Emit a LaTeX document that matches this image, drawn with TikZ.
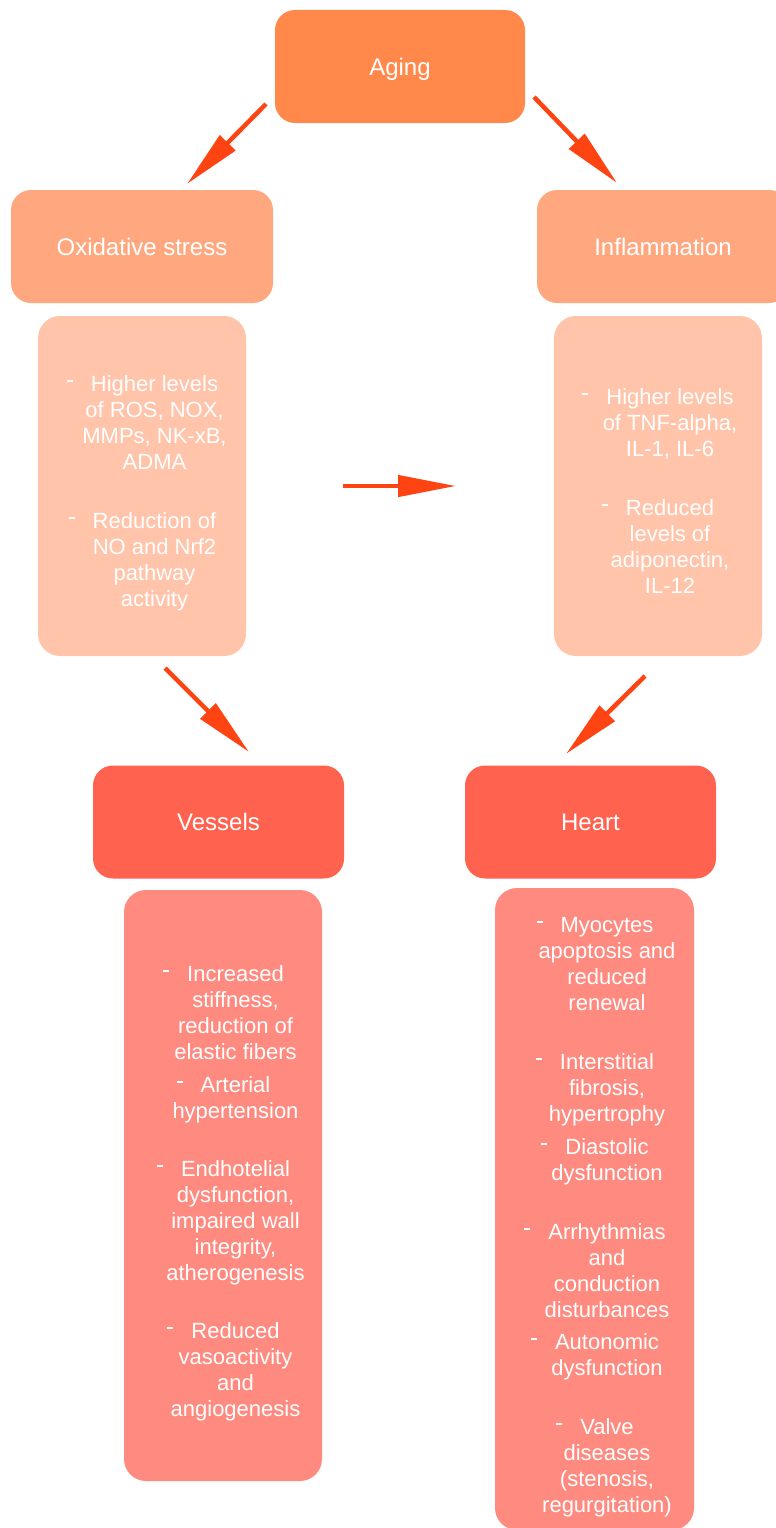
\documentclass[tikz,border=0pt]{standalone}
\usepackage{fontspec}
\setmainfont{Liberation Sans}
\usepackage{tikz}
\usetikzlibrary{arrows.meta,shapes}

\definecolor{agingcol}{HTML}{FF884A}
\definecolor{causecol}{HTML}{FFA880}
\definecolor{causelist}{HTML}{FFC4AA}
\definecolor{organcol}{HTML}{FF6350}
\definecolor{organlist}{HTML}{FF8A80}
\definecolor{arrowcol}{HTML}{FF4414}

\newcommand{\itemdash}{\leavevmode\llap{\raisebox{9pt}{\rule{6pt}{2pt}}\hspace{18pt}}}

\tikzset{
  headbox/.style={rectangle, rounded corners=20pt, inner sep=0pt, minimum height=113pt,
    text height=17pt, text depth=0pt, text=white, font=\fontsize{24}{28}\selectfont},
  listbox/.style={rectangle, rounded corners=22pt, inner sep=0pt},
  listtext/.style={align=center, anchor=north, inner sep=0pt, text=white,
    font=\fontsize{22}{26}\selectfont},
  flow/.style={draw=arrowcol, line width=4.5pt, -{Triangle[length=58pt,width=21pt]}}
}

\begin{document}
\begin{tikzpicture}[x=1pt,y=-1pt]
\useasboundingbox (0,0) rectangle (776,1528);

% top level
\node [headbox, fill=agingcol, minimum width=250pt] (aging) at (400,66.5) {Aging};
\node [headbox, fill=causecol, minimum width=262pt] (oxid) at (142,246.5) {Oxidative stress};
\node [headbox, fill=causecol, minimum width=252pt] (infl) at (663,246.5) {Inflammation};

\node [listbox, fill=causelist, minimum width=208pt, minimum height=340pt] (oxlist) at (142,486) {};
\node [listbox, fill=causelist, minimum width=208pt, minimum height=340pt] (inlist) at (658,486) {};

\node [listtext] (ox1) at (154.5,375) {\itemdash Higher levels\\ of ROS, NOX,\\ MMPs, NK-xB,\\ ADMA};
\node [listtext] (ox2) at (154.5,512) {\itemdash Reduction of\\ NO and Nrf2\\ pathway\\ activity};
\node [listtext] (in1) at (670,388) {\itemdash Higher levels\\ of TNF-alpha,\\ IL-1, IL-6};
\node [listtext] (in2) at (670,499) {\itemdash Reduced\\ levels of\\ adiponectin,\\ IL-12};

% organs
\node [headbox, fill=organcol, minimum width=251pt] (vess) at (218.5,822) {Vessels};
\node [headbox, fill=organcol, minimum width=251pt] (heart) at (590.5,822) {Heart};

\node [listbox, fill=organlist, minimum width=198pt, minimum height=591pt] (velist) at (223,1185.5) {};
\node [listbox, fill=organlist, minimum width=199pt, minimum height=642pt] (helist) at (594.5,1209) {};

\node [listtext] (ve1) at (235.5,965) {\itemdash Increased\\ stiffness,\\ reduction of\\ elastic fibers};
\node [listtext] (ve2) at (235.5,1076) {\itemdash Arterial\\ hypertension};
\node [listtext] (ve3) at (235.5,1160) {\itemdash Endhotelial\\ dysfunction,\\ impaired wall\\ integrity,\\ atherogenesis};
\node [listtext] (ve4) at (235.5,1322) {\itemdash Reduced\\ vasoactivity\\ and\\ angiogenesis};

\node [listtext] (he1) at (607,917) {\itemdash Myocytes\\ apoptosis and\\ reduced\\ renewal};
\node [listtext] (he2) at (607,1053) {\itemdash Interstitial\\ fibrosis,\\ hypertrophy};
\node [listtext] (he3) at (607,1138) {\itemdash Diastolic\\ dysfunction};
\node [listtext] (he4) at (607,1223) {\itemdash Arrhythmias\\ and\\ conduction\\ disturbances};
\node [listtext] (he5) at (607,1333) {\itemdash Autonomic\\ dysfunction};
\node [listtext] (he6) at (607,1418) {\itemdash Valve\\ diseases\\ (stenosis,\\ regurgitation)};

% arrows
\coordinate (a1s) at (266,104);
\coordinate (a1e) at (187,184);
\coordinate (a2s) at (534,97);
\coordinate (a2e) at (617,183);
\coordinate (a3s) at (343,486);
\coordinate (a3e) at (456,486);
\coordinate (a4s) at (165,668);
\coordinate (a4e) at (249,752);
\coordinate (a5s) at (645,676);
\coordinate (a5e) at (566,754);

\draw [flow] (a1s) -- (a1e);
\draw [flow] (a2s) -- (a2e);
\draw [flow] (a3s) -- (a3e);
\draw [flow] (a4s) -- (a4e);
\draw [flow] (a5s) -- (a5e);

\end{tikzpicture}
\end{document}
